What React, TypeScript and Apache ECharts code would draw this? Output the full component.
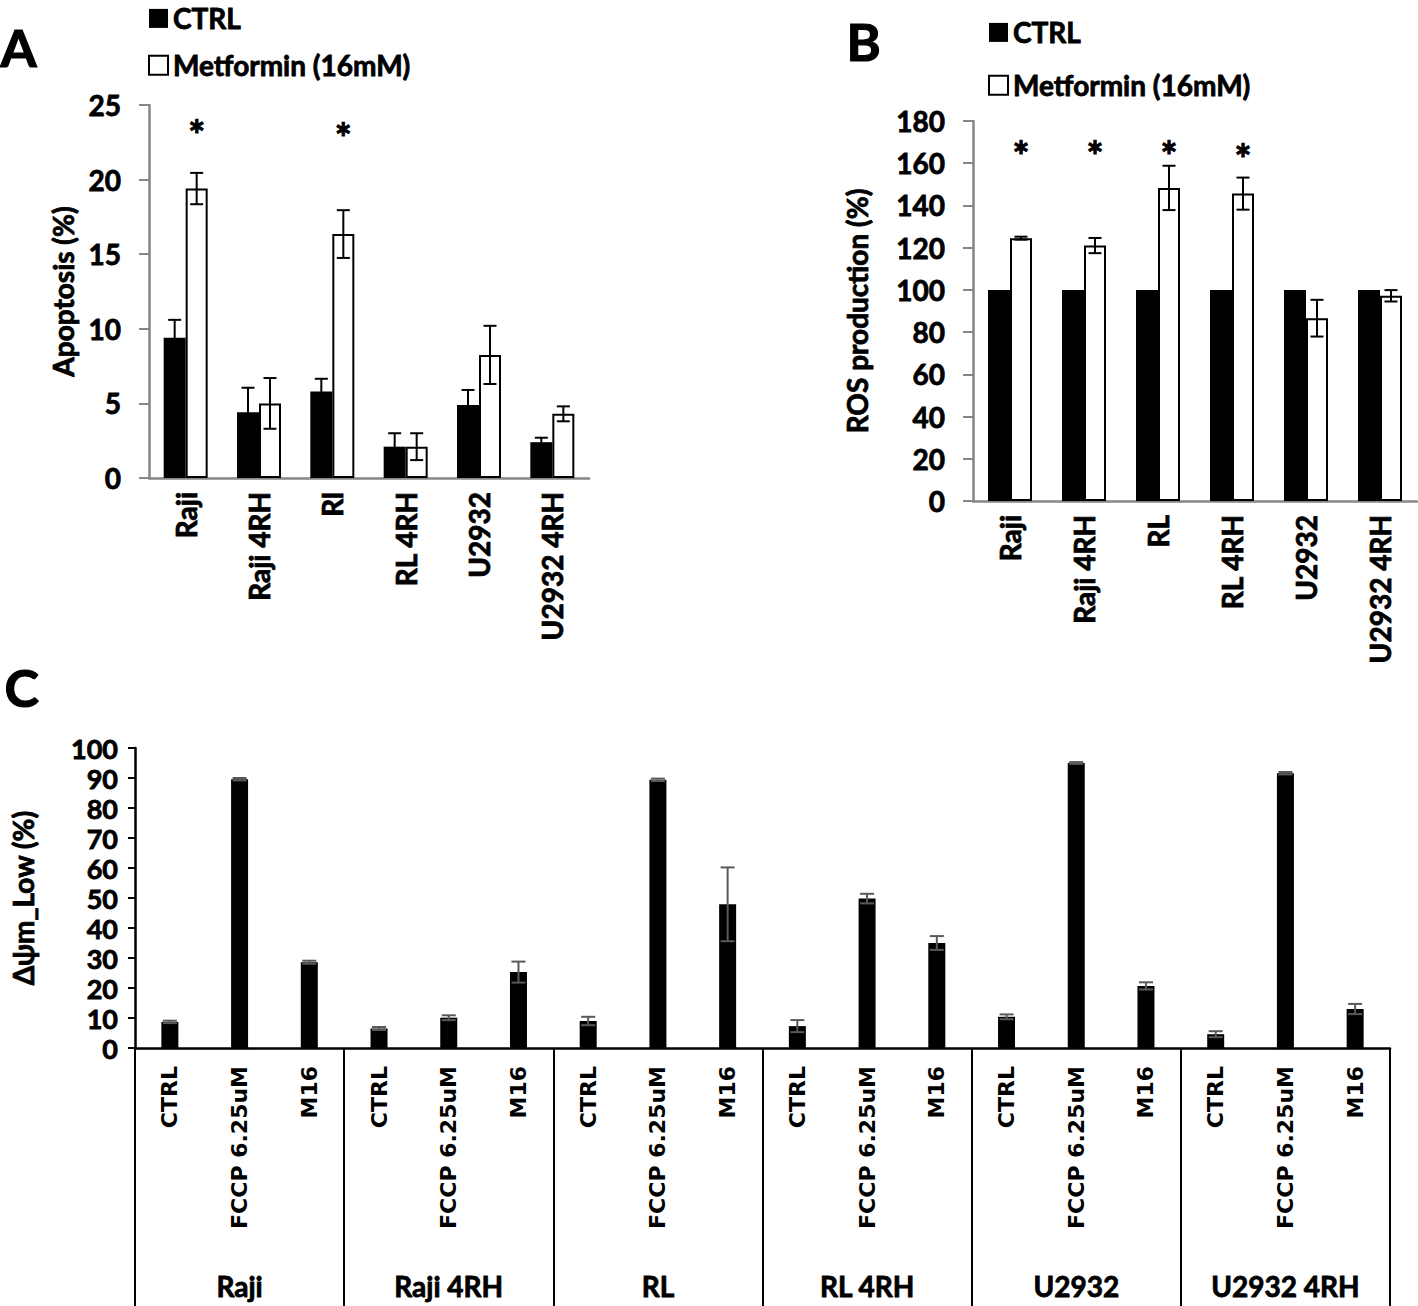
import React, { useEffect, useRef } from "react";
import * as echarts from "echarts";

// ---------- Panel A: apoptosis ----------
const categoriesA = ["Raji", "Raji 4RH", "Rl", "RL 4RH", "U2932", "U2932 4RH"];
const ctrlA = [9.4, 4.4, 5.8, 2.1, 4.9, 2.4];
const ctrlErrA = [1.2, 1.65, 0.85, 0.9, 1.0, 0.3];
const metA = [19.4, 5.0, 16.35, 2.1, 8.25, 4.3];
const metErrA = [1.05, 1.7, 1.6, 0.9, 1.95, 0.5];
const starsA = [23.6, null, 23.4, null, null, null];

// ---------- Panel B: ROS ----------
const categoriesB = ["Raji", "Raji 4RH", "RL", "RL 4RH", "U2932", "U2932 4RH"];
const ctrlB = [100, 100, 100, 100, 100, 100];
const metB = [124.5, 121, 148.3, 145.6, 86.6, 97.2];
const metErrB = [0.7, 3.6, 10.5, 7.6, 8.7, 2.7];
const starsB = [167.5, 167.5, 167.5, 166.5, null, null];

// ---------- Panel C: delta psi m low ----------
const groupsC = ["Raji", "Raji 4RH", "RL", "RL 4RH", "U2932", "U2932 4RH"];
const treatmentsC = ["CTRL", "FCCP 6.25uM", "M16"];
const valuesC = [8.7, 89.6, 28.6, 6.5, 10.1, 25.3, 9.0, 89.4, 47.9, 7.3, 49.8, 35.0, 10.4, 95.0, 20.7, 4.6, 91.6, 13.0];
const errC = [0.4, 0.4, 0.5, 0.5, 0.8, 3.5, 1.4, 0.4, 12.3, 2.0, 1.6, 2.3, 0.8, 0.3, 1.2, 1.0, 0.4, 1.7];

const legendNames = ["CTRL", "Metformin (16mM)"];

const FONT = "Lato";
const W = "bold";
const GRAY = "#868686";
const heavy = { textBorderColor: "#000", textBorderWidth: 0.8 };

function errRender(offsetPx: number, color: string, capW: number, lw: number) {
  return (params: any, api: any) => {
    const i = api.value(0);
    const v = api.value(1);
    const e = api.value(2);
    const top = api.coord([i, v + e]);
    const bot = api.coord([i, v - e]);
    const x = top[0] + offsetPx;
    const st = { stroke: color, lineWidth: lw };
    return {
      type: "group",
      children: [
        { type: "line", shape: { x1: x, y1: top[1], x2: x, y2: bot[1] }, style: st },
        { type: "line", shape: { x1: x - capW / 2, y1: top[1], x2: x + capW / 2, y2: top[1] }, style: st },
        { type: "line", shape: { x1: x - capW / 2, y1: bot[1], x2: x + capW / 2, y2: bot[1] }, style: st },
      ],
    };
  };
}

function starRender(offsetPx: number) {
  return (params: any, api: any) => {
    const p = api.coord([api.value(0), api.value(1)]);
    return {
      type: "text",
      x: p[0] + offsetPx,
      y: p[1] + 9,
      style: {
        text: "*",
        fontFamily: FONT,
        fontWeight: W,
        fontSize: 40,
        fill: "#000",
        stroke: "#000",
        lineWidth: 1,
        align: "center",
        verticalAlign: "middle",
      },
    };
  };
}

const tickLabel = { fontFamily: FONT, fontWeight: W, fontSize: 28, color: "#000", ...heavy };
const nameStyle = { fontFamily: FONT, fontWeight: W, fontSize: 28, color: "#000", ...heavy };
const titleStyle = (t: string) => ({ text: t, fontFamily: FONT, fontWeight: W, fontSize: 52, fill: "#000", stroke: "#000", lineWidth: 1.2 });

export default function App() {
  const ref = useRef<HTMLDivElement>(null);
  useEffect(() => {
    if (!ref.current) return;
    const chart = echarts.init(ref.current, undefined, { renderer: "svg" });
    const catC = groupsC.flatMap((g) => treatmentsC.map((t) => g + "|" + t));

    const legendBase = {
      orient: "vertical",
      itemWidth: 19,
      itemHeight: 19,
      itemGap: 24,
      padding: 0,
      selectedMode: false,
      textStyle: { fontFamily: FONT, fontWeight: W, fontSize: 28, color: "#000", lineHeight: 28, ...heavy },
      data: [
        { name: legendNames[0], icon: "rect", itemStyle: { color: "#000", borderColor: "#000", borderWidth: 0 } },
        { name: legendNames[1], icon: "rect", itemStyle: { color: "#fff", borderColor: "#000", borderWidth: 2 } },
      ],
    };

    const option: any = {
      animation: false,
      backgroundColor: "#fff",
      graphic: [
        { type: "text", left: 0, top: 20, style: titleStyle("A") },
        { type: "text", left: 846, top: 14, style: titleStyle("B") },
        { type: "text", left: 4, top: 660, style: titleStyle("C") },
      ],
      legend: [
        { ...legendBase, left: 148, top: 4, itemGap: 18 },
        { ...legendBase, left: 988, top: 18 },
      ],
      grid: [
        { left: 149, top: 105, width: 440, height: 373 },
        { left: 973, top: 121, width: 444, height: 380 },
        { left: 135, top: 748, width: 1255, height: 300 },
      ],
      xAxis: [
        {
          type: "category",
          gridIndex: 0,
          data: categoriesA,
          axisLine: { lineStyle: { color: GRAY, width: 2.5 } },
          axisTick: { show: false },
          axisLabel: { ...tickLabel, rotate: 90, margin: 14 },
        },
        {
          type: "category",
          gridIndex: 1,
          data: categoriesB,
          axisLine: { lineStyle: { color: GRAY, width: 2.5 } },
          axisTick: { show: false },
          axisLabel: { ...tickLabel, rotate: 90, margin: 14 },
        },
        {
          type: "category",
          gridIndex: 2,
          data: catC,
          axisLine: { lineStyle: { color: "#000", width: 2.5 } },
          axisTick: { show: false },
          axisLabel: {
            fontFamily: "DejaVu Sans",
            fontWeight: "bold",
            fontSize: 22,
            color: "#000",
            rotate: 90,
            margin: 18,
            interval: 0,
            formatter: (v: string) => v.split("|")[1],
          },
        },
        {
          type: "category",
          gridIndex: 2,
          position: "bottom",
          data: groupsC,
          axisLine: { show: false },
          axisTick: { show: true, length: 258, lineStyle: { color: "#000", width: 2 } },
          axisLabel: { ...tickLabel, margin: 224, interval: 0 },
        },
      ],
      yAxis: [
        {
          type: "value",
          gridIndex: 0,
          min: 0,
          max: 25,
          interval: 5,
          name: "Apoptosis (%)",
          nameLocation: "middle",
          nameGap: 72,
          nameTextStyle: nameStyle,
          axisLine: { show: true, lineStyle: { color: GRAY, width: 2.5 } },
          axisTick: { show: true, length: 10, lineStyle: { color: GRAY, width: 2 } },
          splitLine: { show: false },
          axisLabel: { ...tickLabel, margin: 28 },
        },
        {
          type: "value",
          gridIndex: 1,
          min: 0,
          max: 180,
          interval: 20,
          name: "ROS production (%)",
          nameLocation: "middle",
          nameGap: 102,
          nameTextStyle: nameStyle,
          axisLine: { show: true, lineStyle: { color: GRAY, width: 2.5 } },
          axisTick: { show: true, length: 10, lineStyle: { color: GRAY, width: 2 } },
          splitLine: { show: false },
          axisLabel: { ...tickLabel, margin: 28 },
        },
        {
          type: "value",
          gridIndex: 2,
          min: 0,
          max: 100,
          interval: 10,
          name: "Δψm_Low (%)",
          nameLocation: "middle",
          nameGap: 98,
          nameTextStyle: nameStyle,
          axisLine: { show: true, lineStyle: { color: "#000", width: 2.5 } },
          axisTick: { show: true, length: 7, lineStyle: { color: "#000", width: 2 } },
          splitLine: { show: false },
          axisLabel: { ...tickLabel, fontSize: 27, lineHeight: 26, margin: 17 },
        },
      ],
      series: [
        // Panel A
        {
          name: legendNames[0],
          type: "bar",
          xAxisIndex: 0,
          yAxisIndex: 0,
          data: ctrlA,
          barWidth: 22,
          barGap: "0%",
          itemStyle: { color: "#000" },
        },
        {
          name: legendNames[1],
          type: "bar",
          xAxisIndex: 0,
          yAxisIndex: 0,
          data: metA,
          barWidth: 22,
          barGap: "0%",
          itemStyle: { color: "#fff", borderColor: "#000", borderWidth: 2 },
        },
        {
          type: "custom",
          xAxisIndex: 0,
          yAxisIndex: 0,
          z: 5,
          renderItem: errRender(-11, "#000", 13, 2),
          data: ctrlA.map((v, i) => [i, v, ctrlErrA[i]]),
        },
        {
          type: "custom",
          xAxisIndex: 0,
          yAxisIndex: 0,
          z: 5,
          renderItem: errRender(11, "#000", 13, 2),
          data: metA.map((v, i) => [i, v, metErrA[i]]),
        },
        {
          type: "custom",
          xAxisIndex: 0,
          yAxisIndex: 0,
          z: 5,
          renderItem: starRender(11),
          data: starsA.map((s, i) => (s == null ? null : [i, s])).filter((d) => d),
        },
        // Panel B
        {
          name: legendNames[0],
          type: "bar",
          xAxisIndex: 1,
          yAxisIndex: 1,
          data: ctrlB,
          barWidth: 22,
          barGap: "0%",
          itemStyle: { color: "#000" },
        },
        {
          name: legendNames[1],
          type: "bar",
          xAxisIndex: 1,
          yAxisIndex: 1,
          data: metB,
          barWidth: 22,
          barGap: "0%",
          itemStyle: { color: "#fff", borderColor: "#000", borderWidth: 2 },
        },
        {
          type: "custom",
          xAxisIndex: 1,
          yAxisIndex: 1,
          z: 5,
          renderItem: errRender(11, "#000", 13, 2),
          data: metB.map((v, i) => [i, v, metErrB[i]]),
        },
        {
          type: "custom",
          xAxisIndex: 1,
          yAxisIndex: 1,
          z: 5,
          renderItem: starRender(11),
          data: starsB.map((s, i) => (s == null ? null : [i, s])).filter((d) => d),
        },
        // Panel C
        {
          name: "Δψm_Low",
          type: "bar",
          xAxisIndex: 2,
          yAxisIndex: 2,
          data: valuesC,
          barWidth: 17,
          itemStyle: { color: "#000" },
        },
        {
          type: "custom",
          xAxisIndex: 2,
          yAxisIndex: 2,
          z: 5,
          renderItem: errRender(0, "#595959", 14, 2),
          data: valuesC.map((v, i) => [i, v, errC[i]]),
        },
      ],
    };
    chart.setOption(option);
    return () => chart.dispose();
  }, []);
  return (
    <div
      ref={ref}
      style={{ position: "absolute", left: 0, top: 0, width: 1418, height: 1306, background: "#fff" }}
    />
  );
}
